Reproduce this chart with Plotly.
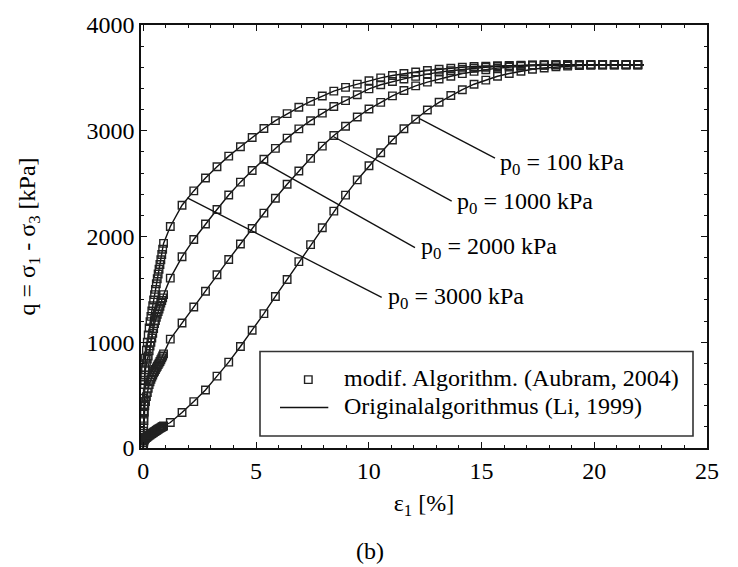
import plotly.graph_objects as go

# ---------------- data ----------------
# axial strain eps_1 [%] : dense initial steps, then the regular step grid
eps_cluster = [0, 0.01, 0.02, 0.03, 0.05, 0.07, 0.10, 0.14, 0.18, 0.22, 0.26, 0.30, 0.34,
               0.38, 0.42, 0.46, 0.50, 0.54, 0.58, 0.62, 0.66, 0.70, 0.74, 0.78, 0.82, 0.86, 0.90]
eps_main = [1.20, 1.72, 2.24, 2.76, 3.27, 3.79, 4.31, 4.83, 5.35, 5.86, 6.38, 6.90, 7.42, 7.94,
            8.45, 8.97, 9.49, 10.01, 10.53, 11.05, 11.56, 12.08, 12.60, 13.12, 13.64, 14.15,
            14.67, 15.19, 15.71, 16.23, 16.75, 17.26, 17.78, 18.30, 18.82, 19.34, 19.85, 20.37,
            20.89, 21.41, 21.93]
eps_line_end = 22.2

# deviator stress q [kPa]
q_p3000_cluster = [0, 160, 320, 470, 640, 760, 850, 925, 1000, 1070, 1135, 1195, 1245, 1295,
                   1345, 1400, 1450, 1500, 1553, 1600, 1645, 1690, 1735, 1780, 1830, 1880, 1935]
q_p3000_main = [2095, 2296, 2431, 2553, 2660, 2760, 2848, 2936, 3021, 3096, 3162, 3222, 3278,
                3328, 3375, 3410, 3441, 3473, 3500, 3523, 3541, 3556, 3570, 3582, 3591, 3600,
                3607, 3611, 3614, 3617, 3620, 3622, 3624, 3624, 3624, 3624, 3624, 3624, 3624,
                3624, 3624]

q_p2000_cluster = [0, 140, 280, 400, 600, 690, 740, 800, 840, 870, 920, 965, 1000, 1040, 1085,
                   1130, 1176, 1205, 1235, 1265, 1290, 1315, 1340, 1370, 1395, 1420, 1450]
q_p2000_main = [1606, 1808, 1972, 2118, 2255, 2393, 2514, 2624, 2731, 2833, 2930, 3018, 3095,
                3167, 3230, 3285, 3340, 3396, 3435, 3466, 3490, 3514, 3537, 3554, 3567, 3579,
                3591, 3600, 3607, 3613, 3617, 3620, 3622, 3624, 3624, 3624, 3624, 3624, 3624,
                3624, 3624]

q_p1000_cluster = [0, 100, 190, 260, 340, 400, 440, 486, 525, 565, 600, 625, 650, 670, 690,
                   710, 725, 742, 758, 773, 788, 803, 818, 835, 852, 870, 890]
q_p1000_main = [1030, 1182, 1333, 1482, 1639, 1783, 1929, 2076, 2221, 2362, 2494, 2619, 2739,
                2855, 2955, 3043, 3130, 3205, 3268, 3330, 3380, 3424, 3460, 3490, 3515, 3540,
                3561, 3577, 3592, 3602, 3610, 3616, 3620, 3623, 3624, 3624, 3624, 3624, 3624,
                3624, 3624]

q_p100_cluster = [0, 30, 50, 65, 78, 86, 92, 100, 107, 113, 119, 125, 131, 137, 143, 149, 155,
                  160, 166, 172, 177, 183, 188, 193, 198, 203, 208]
q_p100_main = [241, 335, 439, 549, 680, 812, 960, 1113, 1271, 1433, 1594, 1762, 1923, 2083,
               2240, 2391, 2535, 2669, 2792, 2912, 3019, 3109, 3196, 3269, 3333, 3388, 3440,
               3479, 3515, 3541, 3563, 3581, 3594, 3604, 3611, 3617, 3621, 3623, 3624, 3624,
               3624]

curve_labels = ["p<sub>0</sub> = 3000 kPa", "p<sub>0</sub> = 2000 kPa",
                "p<sub>0</sub> = 1000 kPa", "p<sub>0</sub> = 100 kPa"]
legend_names = ["modif. Algorithm. (Aubram, 2004)", "Originalalgorithmus (Li, 1999)"]
x_ticks = [0, 5, 10, 15, 20, 25]
y_ticks = [0, 1000, 2000, 3000, 4000]

# ---------------- layout helpers ----------------
W, H = 738, 567
L, R, T, B = 141, 31, 23, 119
X_RANGE = [-0.1, 25]
Y_RANGE = [0, 4000]
PW, PH = W - L - R, H - T - B
FONT = "Liberation Serif, Times New Roman, serif"
INK = "#111111"
MK = "#222222"


def px2paper(px, py):
    return (px - L) / PW, (H - B - py) / PH


def px2data(px, py):
    x = X_RANGE[0] + (px - L) / PW * (X_RANGE[1] - X_RANGE[0])
    y = Y_RANGE[0] + (H - B - py) / PH * (Y_RANGE[1] - Y_RANGE[0])
    return x, y


curves = [
    (q_p3000_cluster + q_p3000_main),
    (q_p2000_cluster + q_p2000_main),
    (q_p1000_cluster + q_p1000_main),
    (q_p100_cluster + q_p100_main),
]
eps_all = eps_cluster + eps_main
marker_style = dict(symbol="square-open", size=7.5, color=MK, line=dict(color=MK, width=1.4))

fig = go.Figure()
for q in curves:
    fig.add_trace(go.Scatter(x=eps_all + [eps_line_end], y=q + [q[-1]], mode="lines",
                             line=dict(color=INK, width=1.4), showlegend=False,
                             hoverinfo="skip"))
for q in curves:
    fig.add_trace(go.Scatter(x=eps_all, y=q, mode="markers", marker=marker_style,
                             showlegend=False))

# ---- leader lines + labels (pixel positions) ----
leaders = [  # start on curve (px), end near label (px), label left (px), label centre y (px)
    ((187.3, 196.7), (381.7, 296.7), 386, 295),
    ((261.7, 160.0), (415.0, 246.7), 419, 245),
    ((333.3, 135.0), (451.7, 200.0), 455, 200),
    ((420.0, 117.3), (495.0, 156.7), 498, 161),
]
shapes = []
annotations = []
for (s, e, tx, ty), lab in zip(leaders, curve_labels):
    x0, y0 = px2data(*s)
    x1, y1 = px2data(*e)
    shapes.append(dict(type="line", xref="x", yref="y", x0=x0, y0=y0, x1=x1, y1=y1,
                       line=dict(color=INK, width=1.3)))
    ax, ay = px2paper(tx, ty)
    annotations.append(dict(text=lab, xref="paper", yref="paper", x=ax, y=ay,
                            xanchor="left", yanchor="middle", showarrow=False, yshift=-2,
                            font=dict(family=FONT, size=24, color="black")))

# ---- legend box (drawn) ----
bx0, by0 = px2paper(260, 436)
bx1, by1 = px2paper(693, 351)
shapes.append(dict(type="rect", xref="paper", yref="paper", x0=bx0, y0=by0, x1=bx1, y1=by1,
                   line=dict(color="#333333", width=1.6), fillcolor="white", layer="below"))
lx0, ly = px2paper(280, 407.3)
lx1, _ = px2paper(328.3, 407.3)
shapes.append(dict(type="line", xref="paper", yref="paper", x0=lx0, y0=ly, x1=lx1, y1=ly,
                   line=dict(color=INK, width=1.4)))
mx, my = px2data(308.3, 379.3)
fig.add_trace(go.Scatter(x=[mx], y=[my], mode="markers", showlegend=False, hoverinfo="skip",
                         marker=marker_style))
for name, ypx in zip(legend_names, [377.5, 406]):
    ax, ay = px2paper(342, ypx)
    annotations.append(dict(text=name, xref="paper", yref="paper", x=ax, y=ay,
                            xanchor="left", yanchor="middle", showarrow=False,
                            font=dict(family=FONT, size=24, color="black")))

# ---- caption ----
cx, cy = px2paper(370, 551)
annotations.append(dict(text="(b)", xref="paper", yref="paper", x=cx, y=cy,
                        xanchor="center", yanchor="middle", showarrow=False,
                        font=dict(family=FONT, size=24, color="black")))

axis_common = dict(showgrid=False, zeroline=False, showline=True, linecolor=INK, linewidth=1.6,
                   mirror="allticks", ticks="inside", ticklen=6, tickwidth=1.2,
                   tickcolor=INK, tickfont=dict(family=FONT, size=24, color="black"))

fig.update_layout(
    width=W, height=H,
    margin=dict(l=L, r=R, t=T, b=B, pad=0),
    paper_bgcolor="white", plot_bgcolor="white",
    font=dict(family=FONT, size=24, color="black"),
    showlegend=False,
    xaxis=dict(range=X_RANGE, tickmode="array", tickvals=x_ticks,
               ticktext=[str(v) for v in x_ticks],
               minor=dict(ticks="inside", ticklen=3.5, tickwidth=1, tickcolor=INK,
                          tickmode="linear", tick0=0, dtick=1, showgrid=False),
               title=dict(text="ε<sub>1</sub> [%]", font=dict(family=FONT, size=24),
                          standoff=12),
               **axis_common),
    yaxis=dict(range=Y_RANGE, tickmode="array", tickvals=y_ticks,
               ticktext=[str(v) for v in y_ticks],
               minor=dict(ticks="inside", ticklen=3.5, tickwidth=1, tickcolor=INK,
                          tickmode="linear", tick0=0, dtick=200, showgrid=False),
               title=dict(text="q = σ<sub>1</sub> - σ<sub>3</sub> [kPa]",
                          font=dict(family=FONT, size=24), standoff=44),
               **axis_common),
    shapes=shapes,
    annotations=annotations,
)

fig.write_html("out.html")
